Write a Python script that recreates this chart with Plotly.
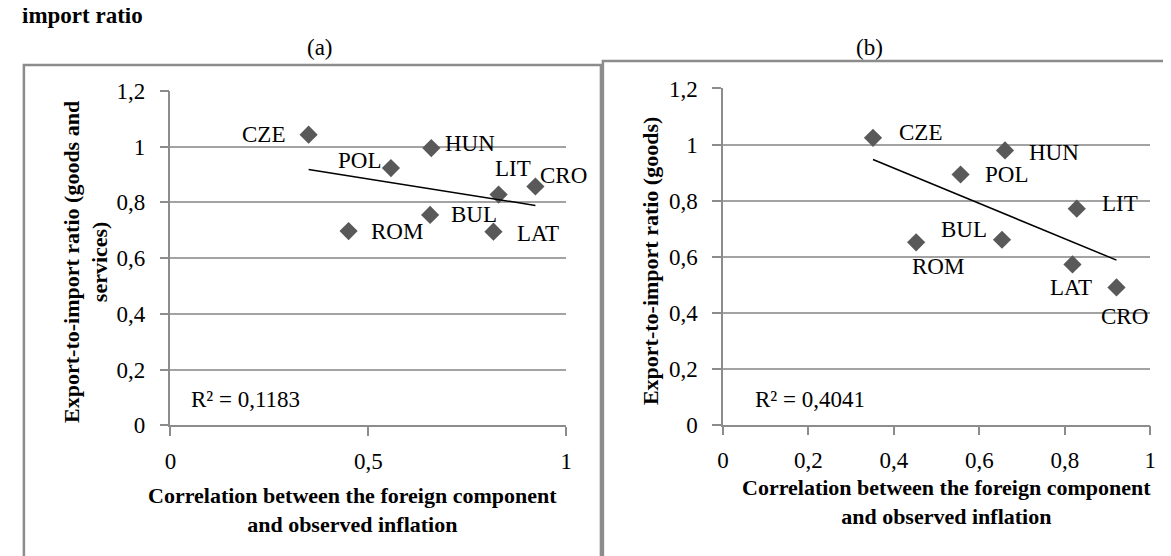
import numpy as np
import plotly.graph_objects as go

W, H = 1171, 556

# ---------------- data ----------------
countries_a = ["CZE", "HUN", "POL", "LIT", "CRO", "BUL", "ROM", "LAT"]
corr_a = [0.349, 0.659, 0.557, 0.829, 0.922, 0.656, 0.450, 0.816]
ratio_gs = [1.043, 0.995, 0.923, 0.828, 0.857, 0.755, 0.697, 0.695]
r2_a = "R² = 0,1183"

countries_b = ["CZE", "HUN", "POL", "LIT", "BUL", "ROM", "LAT", "CRO"]
corr_b = [0.351, 0.660, 0.556, 0.828, 0.653, 0.452, 0.818, 0.921]
ratio_g = [1.024, 0.979, 0.893, 0.771, 0.660, 0.651, 0.572, 0.490]
r2_b = "R² = 0,4041"

y_tickvals = [0, 0.2, 0.4, 0.6, 0.8, 1.0, 1.2]
y_ticktext = ["0", "0,2", "0,4", "0,6", "0,8", "1", "1,2"]
xa_tickvals = [0, 0.5, 1]
xa_ticktext = ["0", "0,5", "1"]
xb_tickvals = [0, 0.2, 0.4, 0.6, 0.8, 1.0]
xb_ticktext = ["0", "0,2", "0,4", "0,6", "0,8", "1"]

# label placement (style): xanchor, xshift, yshift in px
lab_a = {"CZE": ("right", -22, 0), "HUN": ("left", 12, 5), "POL": ("right", -8, 8),
         "LIT": ("center", 14, 26), "CRO": ("left", 3, 11), "BUL": ("left", 19, 0),
         "ROM": ("left", 20, 0), "LAT": ("left", 22, -2)}
lab_b = {"CZE": ("left", 24, 5), "HUN": ("left", 22, -2), "POL": ("left", 22, 0),
         "LIT": ("left", 23, 5), "BUL": ("right", -13, 10), "ROM": ("center", 22, -24),
         "LAT": ("center", -1, -23), "CRO": ("center", 8, -29)}

SERIF = "Liberation Serif, Times New Roman, serif"
GRID = "#a3a3a3"
AX = "#8c8c8c"
MK = "#595959"
FS = 23      # regular text size
FT = 22      # bold axis-title size


def px(x):
    return x / W


def py(y):
    return 1 - y / H


fig = go.Figure()

for xs, ys, xa, ya in [(corr_a, ratio_gs, "x", "y"), (corr_b, ratio_g, "x2", "y2")]:
    fig.add_trace(go.Scatter(x=xs, y=ys, mode="markers", xaxis=xa, yaxis=ya,
                             marker=dict(symbol="diamond", size=14, color=MK,
                                         line=dict(width=0))))
    k, b = np.polyfit(np.array(xs), np.array(ys), 1)
    xl = np.array([min(xs), max(xs)])
    fig.add_trace(go.Scatter(x=xl, y=k * xl + b, mode="lines", xaxis=xa, yaxis=ya,
                             line=dict(color="black", width=1.5)))

ann = []
for names, xs, ys, lab, xr, yr in [(countries_a, corr_a, ratio_gs, lab_a, "x", "y"),
                                   (countries_b, corr_b, ratio_g, lab_b, "x2", "y2")]:
    for n, xv, yv in zip(names, xs, ys):
        anc, xs_, ys_ = lab[n]
        ann.append(dict(x=xv, y=yv, xref=xr, yref=yr, text=n, showarrow=False,
                        xanchor=anc, yanchor="middle", xshift=xs_, yshift=ys_,
                        font=dict(family=SERIF, size=FS, color="black")))

# R² texts
ann.append(dict(x=px(177), y=py(397), xref="paper", yref="paper", text=r2_a, showarrow=False,
                xanchor="left", yanchor="middle", font=dict(family=SERIF, size=FS, color="black")))
ann.append(dict(x=px(747), y=py(397), xref="paper", yref="paper", text=r2_b, showarrow=False,
                xanchor="left", yanchor="middle", font=dict(family=SERIF, size=FS, color="black")))

# panel titles
ann.append(dict(x=px(309), y=py(29), xref="paper", yref="paper", text="(a)", showarrow=False,
                xanchor="center", yanchor="middle", font=dict(family=SERIF, size=FS, color="black")))
ann.append(dict(x=px(864), y=py(29), xref="paper", yref="paper", text="(b)", showarrow=False,
                xanchor="center", yanchor="middle", font=dict(family=SERIF, size=FS, color="black")))

# cut-off heading
ann.append(dict(x=px(6), y=py(10), xref="paper", yref="paper", text="<b>import ratio</b>",
                showarrow=False, xanchor="left", yanchor="bottom",
                font=dict(family=SERIF, size=FS, color="black")))

# axis titles
ann.append(dict(x=px(72), y=py(253), xref="paper", yref="paper",
                text="<b>Export-to-import ratio (goods and<br>services)</b>", showarrow=False,
                textangle=-90, xanchor="center", yanchor="middle",
                font=dict(family=SERIF, size=FT, color="black")))
ann.append(dict(x=px(643), y=py(252), xref="paper", yref="paper",
                text="<b>Export-to-import ratio (goods)</b>", showarrow=False,
                textangle=-90, xanchor="center", yanchor="middle",
                font=dict(family=SERIF, size=FT, color="black")))
ann.append(dict(x=px(342), y=py(513), xref="paper", yref="paper",
                text="<b>Correlation between the foreign component<br>and observed inflation</b>",
                showarrow=False, xanchor="center", yanchor="middle",
                font=dict(family=SERIF, size=FT, color="black")))
ann.append(dict(x=px(942), y=py(505), xref="paper", yref="paper",
                text="<b>Correlation between the foreign component<br>and observed inflation</b>",
                showarrow=False, xanchor="center", yanchor="middle",
                font=dict(family=SERIF, size=FT, color="black")))

shapes = [
    dict(type="rect", xref="paper", yref="paper", x0=px(10), y0=py(47), x1=px(593), y1=py(620),
         line=dict(color=AX, width=2.5)),
    dict(type="rect", xref="paper", yref="paper", x0=px(595), y0=py(43), x1=px(1230), y1=py(620),
         line=dict(color=AX, width=2.5)),
]


def xaxis(domain, tv, tt, anchor):
    return dict(domain=domain, range=[0, 1], tickvals=tv, ticktext=tt, showgrid=False,
                zeroline=False, showline=True, linecolor=AX, linewidth=1.5, ticks="outside",
                ticklen=9, tickcolor=AX, tickwidth=1.5, anchor=anchor, ticklabelstandoff=5,
                tickfont=dict(family=SERIF, size=FS, color="black"), fixedrange=True)


def yaxis(domain, anchor):
    return dict(domain=domain, range=[0, 1.2], tickvals=y_tickvals, ticktext=y_ticktext,
                showgrid=True, gridcolor=GRID, gridwidth=1.5, zeroline=False, showline=True,
                linecolor=AX, linewidth=1.5, ticks="outside", ticklen=9, tickcolor=AX,
                tickwidth=1.5, anchor=anchor, ticklabelstandoff=10,
                tickfont=dict(family=SERIF, size=FS, color="black"), fixedrange=True)


fig.update_layout(
    width=W, height=H, margin=dict(l=0, r=0, t=0, b=0),
    paper_bgcolor="white", plot_bgcolor="white", showlegend=False,
    xaxis=xaxis([px(158.1), px(558)], xa_tickvals, xa_ticktext, "y"),
    yaxis=yaxis([py(424.3), py(74.3)], "x"),
    xaxis2=xaxis([px(716.4), px(1148)], xb_tickvals, xb_ticktext, "y2"),
    yaxis2=yaxis([py(423.7), py(71.7)], "x2"),
    annotations=ann, shapes=shapes,
)

fig.write_html("out.html")
